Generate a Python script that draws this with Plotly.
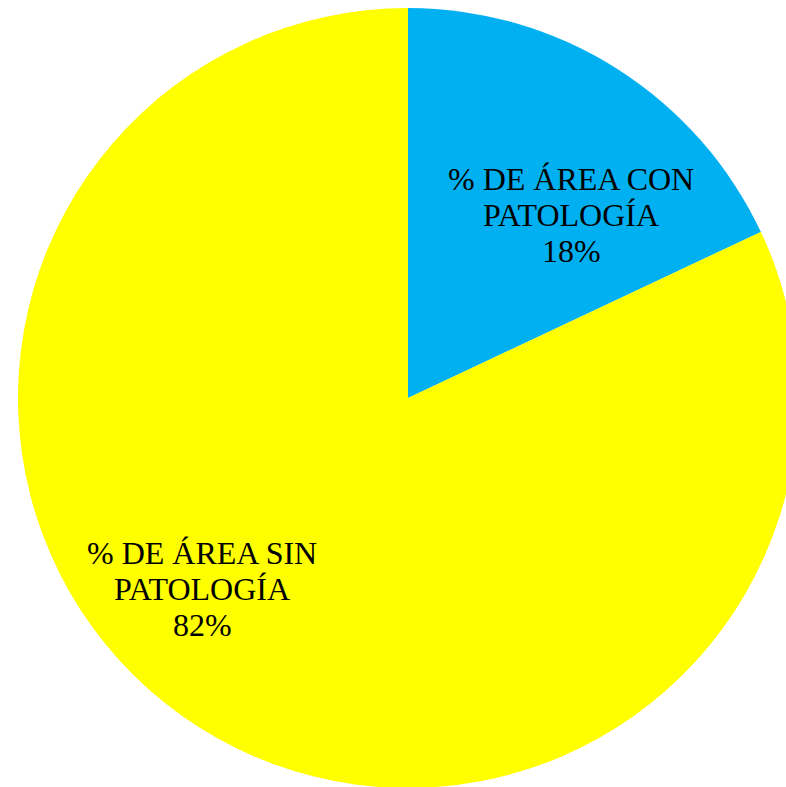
import plotly.graph_objects as go

label_lines = [["% DE ÁREA CON", "PATOLOGÍA"], ["% DE ÁREA SIN", "PATOLOGÍA"]]
values = [18, 82]
colors = ["#00B0F0", "#FFFF00"]

# label block centres (paper coords)
label_pos = [(0.709, 0.734), (0.2365, 0.2555)]

fig = go.Figure(go.Pie(
    labels=[" ".join(l) for l in label_lines],
    values=values,
    sort=False,
    direction="clockwise",
    rotation=0,
    marker=dict(colors=colors, line=dict(width=0)),
    textinfo="none",
    hoverinfo="label+percent",
    showlegend=False,
))

total = sum(values)
for lines, v, (x, y) in zip(label_lines, values, label_pos):
    texts = lines + [f"{round(100 * v / total)}%"]
    for i, t in enumerate(texts):
        fig.add_annotation(
            x=x, y=y, xref="paper", yref="paper",
            text=t, showarrow=False,
            xanchor="center", yanchor="middle",
            yshift=36 * (1 - i),
            font=dict(family="Liberation Serif", size=32, color="black"),
        )

fig.update_layout(
    width=798,
    height=788,
    margin=dict(l=18, r=0, t=8, b=0),
    paper_bgcolor="white",
    plot_bgcolor="white",
)

fig.write_html(
    "out.html",
    config={"displayModeBar": False},
    default_width="798px",
    default_height="788px",
    post_script="document.body.style.margin='0';"
                "document.documentElement.style.overflow='hidden';"
                "document.body.style.overflow='hidden';",
)
